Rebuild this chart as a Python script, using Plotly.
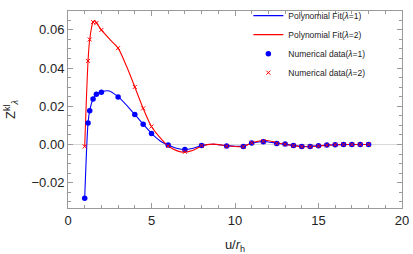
import plotly.graph_objects as go

# Numerical data
x_data = [1, 1.2, 1.3, 1.5, 1.7, 2, 3, 4, 4.5, 5, 6, 7, 8, 9.5, 10.5, 11, 11.7,
          12.5, 13, 13.5, 14, 14.5, 15, 15.5, 16, 16.5, 17, 17.5, 18]
z_lambda1 = [-0.0281, 0.0113, 0.0177, 0.0238, 0.0263, 0.0273, 0.0248, 0.0157, 0.0106,
             0.0058, -0.0003, -0.0026, -0.0005, -0.0008, -0.0010, 0.0008, 0.0015,
             0.0005, 0.0002, -0.0005, -0.0010, -0.0010, -0.0007, -0.0003, -0.0001,
             0.0, 0.0, 0.0, 0.0]
z_lambda2 = [-0.0010, 0.0437, 0.0549, 0.0640, 0.0635, 0.0599, 0.0504, 0.0301, 0.0189,
             0.0094, -0.0008, -0.0038, -0.0006, -0.0009, -0.0011, 0.0009, 0.0017,
             0.0006, 0.0001, -0.0006, -0.0011, -0.0011, -0.0008, -0.0004, -0.0001,
             0.0, 0.0, 0.0, 0.0]

# Polynomial fit curves
fit1_x = [1, 1.2, 1.3, 1.5, 1.7, 2, 2.4, 3, 4, 4.5, 5, 5.5, 6, 6.5, 7, 7.5, 8, 8.7,
          9.5, 10.5, 11, 11.7, 12.5, 13, 13.5, 14, 14.5, 15, 15.5, 16, 17, 18]
fit1_y = [-0.0281, 0.0113, 0.0177, 0.0238, 0.0263, 0.0275, 0.0281, 0.0250, 0.0157,
          0.0106, 0.0058, 0.0020, -0.0003, -0.0020, -0.0027, -0.0020, -0.0006, 0.0001,
          -0.0006, -0.0009, 0.0006, 0.0016, 0.0007, 0.0001, -0.0005, -0.0009, -0.0010,
          -0.0007, -0.0003, -0.0001, 0.0, 0.0]
fit2_x = [1, 1.2, 1.3, 1.5, 1.6, 1.7, 2, 2.5, 3, 3.5, 4, 4.5, 5, 5.5, 6, 6.5, 7, 7.5,
          8, 8.7, 9.5, 10.5, 11, 11.8, 12.5, 13, 13.5, 14, 14.5, 15, 15.5, 16, 17, 18]
fit2_y = [-0.0010, 0.0437, 0.0549, 0.0640, 0.0648, 0.0637, 0.0599, 0.0550, 0.0504,
          0.0410, 0.0301, 0.0189, 0.0094, 0.0037, -0.0008, -0.0032, -0.0040, -0.0030,
          -0.0008, 0.0002, -0.0007, -0.0011, 0.0008, 0.0022, 0.0010, 0.0001, -0.0006,
          -0.0011, -0.0011, -0.0008, -0.0004, -0.0001, 0.0, 0.0]

x_ticks = [0, 5, 10, 15, 20]
y_ticks = [-0.02, 0.0, 0.02, 0.04, 0.06]

BLUE = "#0000ff"
RED = "#ff0000"
FONT = "Liberation Sans, Arial, sans-serif"

fig = go.Figure()
fig.add_trace(go.Scatter(x=fit1_x, y=fit1_y, mode="lines",
                         line=dict(color=BLUE, width=1.1, shape="spline", smoothing=0.8),
                         name="Polynomial Fit(<i>λ</i>=1)"))
fig.add_trace(go.Scatter(x=fit2_x, y=fit2_y, mode="lines",
                         line=dict(color=RED, width=1.1, shape="spline", smoothing=0.8),
                         name="Polynomial Fit(<i>λ</i>=2)"))
fig.add_trace(go.Scatter(x=x_data, y=z_lambda1, mode="markers",
                         marker=dict(color=BLUE, size=5.5, symbol="circle"),
                         name="Numerical data(<i>λ</i>=1)"))
fig.add_trace(go.Scatter(x=x_data, y=z_lambda2, mode="markers",
                         marker=dict(color=RED, size=4, symbol="x-thin",
                                     line=dict(color=RED, width=1)),
                         name="Numerical data(<i>λ</i>=2)"))

axis_common = dict(showline=True, linecolor="#9a9a9a", linewidth=1, mirror="ticks",
                   ticks="inside", ticklen=5, tickcolor="#9a9a9a", showgrid=False,
                   automargin=False,
                   tickfont=dict(size=13, color="#222", family=FONT))

fig.update_xaxes(range=[0, 20], tickvals=x_ticks, zeroline=False,
                 minor=dict(dtick=1, ticks="inside", ticklen=3, tickcolor="#9a9a9a"),
                 title=dict(text="u/<i>r</i><sub>h</sub>", font=dict(size=13, family=FONT, color="#222"),
                            standoff=14),
                 **axis_common)
fig.update_yaxes(range=[-0.0332, 0.0698], tickvals=y_ticks, tickformat=".2f",
                 zeroline=True, zerolinecolor="#d9d9d9", zerolinewidth=1,
                 minor=dict(dtick=0.005, tick0=0, ticks="inside", ticklen=3, tickcolor="#9a9a9a"),
                 title=dict(text="Z<sup>kl</sup><sub><i>λ</i></sub>", font=dict(size=13, family=FONT, color="#222"),
                            standoff=12),
                 **axis_common)

fig.update_layout(
    width=413, height=254,
    margin=dict(l=68, r=11, t=1, b=46),
    paper_bgcolor="white", plot_bgcolor="white",
    font=dict(family=FONT, color="#222"),
    legend=dict(x=0.54, y=1.05, xanchor="left", yanchor="top",
                bgcolor="rgba(0,0,0,0)", font=dict(size=8.5, family=FONT, color="#222"),
                itemwidth=30, tracegroupgap=0),
    showlegend=True,
)

fig.write_html("out.html", config={"displayModeBar": False},
               post_script="document.body.style.margin='0px';")
